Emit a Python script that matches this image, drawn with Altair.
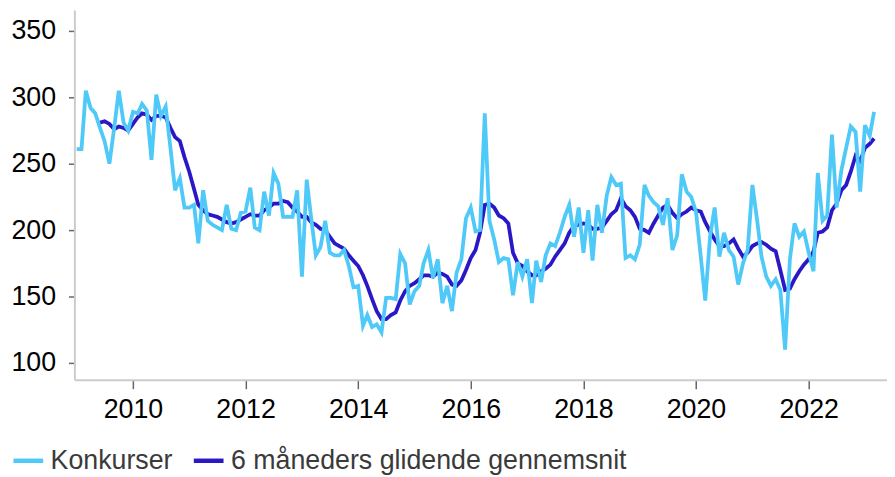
import altair as alt
import pandas as pd

# Monthly bankruptcies (Konkurser), Jan 2009 - Mar 2023
konkurser = [
    261, 261, 305, 292, 288, 277, 267, 250, 277, 305, 281, 275,
    289, 288, 295, 290, 253, 302, 286, 293, 262, 230, 239, 217,
    217, 219, 190, 230, 207, 204, 202, 200, 219, 201, 200, 213,
    214, 232, 202, 200, 229, 211, 243, 235, 210, 210, 210, 230,
    165, 238, 210, 181, 187, 207, 183, 181, 181, 185, 173, 157,
    158, 128, 136, 127, 129, 123, 149, 149, 148, 182, 175, 144,
    154, 158, 175, 185, 164, 178, 145, 158, 139, 168, 178, 209,
    217, 199, 200, 288, 207, 193, 176, 179, 178, 151, 176, 165,
    178, 145, 177, 161, 181, 190, 188, 198, 210, 219, 195, 217,
    183, 215, 177, 219, 198, 226, 240, 234, 235, 179, 181, 178,
    189, 234, 226, 221, 218, 204, 224, 185, 196, 242, 229, 225,
    214, 180, 147, 195, 217, 180, 198, 185, 180, 159, 175, 185,
    234, 207, 180, 165, 158, 163, 155, 110, 178, 205, 195, 199,
    183, 169, 243, 207, 211, 272, 217, 245, 262, 278, 274, 229,
    279, 271, 289,
]

# 6-month moving average, Jun 2009 - Mar 2023
glidende = [
    281, 282, 280, 276, 278, 277, 275,
    280, 285, 288, 287, 283, 286, 286, 285, 277, 270, 267, 255,
    244, 231, 219, 215, 212, 211, 210, 208, 206, 205, 206, 208,
    210, 212, 211, 211, 215, 217, 220, 220, 222, 221, 217, 214,
    210, 210, 206, 204, 201, 200, 195, 190, 188, 186, 181, 177,
    173, 166, 158, 148, 139, 133, 133, 136, 138, 147, 154, 158,
    160, 163, 166, 166, 165, 168, 167, 165, 159, 158, 162, 170,
    179, 185, 198, 219, 220, 217, 211, 209, 205, 183, 175, 173,
    169, 166, 166, 169, 171, 174, 180, 185, 190, 198, 203, 204,
    205, 204, 201, 201, 202, 207, 212, 215, 224, 218, 215, 210,
    201, 200, 198, 205, 211, 217, 219, 213, 209, 212, 214, 217,
    215, 214, 206, 199, 193, 188, 188, 190, 193, 186, 180, 183,
    188, 190, 191, 189, 186, 184, 170, 155, 156, 163, 169, 174,
    178, 184, 198, 199, 202, 215, 220, 230, 234, 244, 256, 252,
    262, 265, 269,
]

series_names = ["Konkurser", "6 måneders glidende gennemsnit"]
series_colors = ["#4FC9F8", "#2A18C6"]
y_ticks = [100, 150, 200, 250, 300, 350]
x_tick_years = [2010, 2012, 2014, 2016, 2018, 2020, 2022]

dates = pd.date_range("2009-01-01", periods=len(konkurser), freq="MS")
ma_dates = dates[len(konkurser) - len(glidende):]

df = pd.concat([
    pd.DataFrame({"date": dates, "value": konkurser, "series": series_names[0]}),
    pd.DataFrame({"date": ma_dates, "value": glidende, "series": series_names[1]}),
], ignore_index=True)

FONT = "Liberation Sans, Arial, sans-serif"

x = alt.X(
    "date:T",
    title=None,
    scale=alt.Scale(domain=[alt.DateTime(year=2008, month=12, date=17),
                            alt.DateTime(year=2023, month=5, date=24)]),
    axis=alt.Axis(values=[alt.DateTime(year=y, month=1, date=1) for y in x_tick_years],
                  format="%Y", grid=False, tickSize=9, labelPadding=8),
)
y = alt.Y(
    "value:Q",
    title=None,
    scale=alt.Scale(domain=[87.3, 365.7], nice=False, zero=False),
    axis=alt.Axis(values=y_ticks, grid=False, tickSize=6, labelPadding=13),
)
color = alt.Color(
    "series:N",
    scale=alt.Scale(domain=series_names, range=series_colors),
    legend=alt.Legend(
        title=None, orient="none", direction="horizontal",
        legendX=-64, legendY=437,
        symbolType="stroke", symbolSize=900, symbolStrokeWidth=4.5,
        labelFontSize=27, labelFont=FONT, labelColor="#3a3a3a",
        labelOffset=5, columnPadding=11, padding=0, labelLimit=1000,
    ),
)

base = alt.Chart(df)
ma_layer = base.transform_filter(alt.datum.series == series_names[1]).mark_line(
    strokeWidth=3.8).encode(x=x, y=y, color=color)
k_layer = base.transform_filter(alt.datum.series == series_names[0]).mark_line(
    strokeWidth=3.8).encode(x=x, y=y, color=color)

chart = alt.layer(ma_layer, k_layer).properties(
    width=820, height=373,
    autosize=alt.AutoSizeParams(type="none"),
    padding={"left": 67, "top": 0, "right": 0, "bottom": 96},
).configure_view(stroke=None).configure_axis(
    labelFont=FONT, labelFontSize=27, labelColor="#000000",
    domainColor="#cccccc", domainWidth=2,
    tickColor="#666666", tickWidth=1.5,
)

chart.save("out.html", embed_options={"renderer": "svg", "actions": False})
